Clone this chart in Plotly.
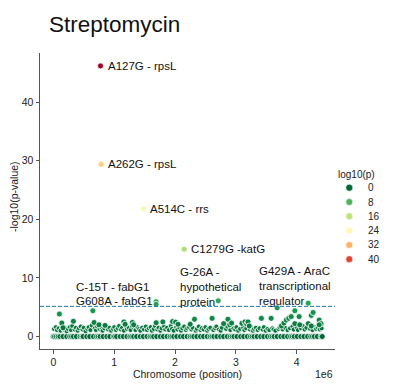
import plotly.graph_objects as go
from plotly.colors import sample_colorscale

W, H = 404, 389

# ---------------- data (positions in Mb, values = -log10(p)) ----------------
hit_pos = [0.776, 0.787, 1.48, 2.15, 1.69, 1.69, 2.71]
hit_val = [46.2, 29.4, 21.8, 14.9, 5.95, 5.5, 6.1]

scatter_pos = [0.10, 0.14, 0.16, 0.33, 0.65, 0.67, 0.75, 0.85, 1.16, 1.18, 1.30, 1.32,
               1.69, 1.80, 1.96, 2.01, 2.05, 2.25, 2.32, 2.61, 2.80, 2.87, 2.90, 2.93,
               3.10, 3.15, 3.18, 3.20, 3.22, 3.42, 3.58, 3.68, 3.75, 3.79, 3.83, 3.87,
               3.91, 3.97, 3.97, 4.04, 4.05, 4.19, 4.19, 4.24, 4.27, 4.24, 4.37, 4.40, 4.37]
scatter_val = [3.85, 2.3, 1.5, 2.6, 4.4, 2.4, 2.0, 1.9, 2.5, 2.1, 2.4, 2.0,
               2.35, 2.5, 2.55, 2.45, 2.1, 2.1, 2.95, 3.1, 2.2, 2.95, 2.0, 2.3,
               2.25, 2.5, 2.1, 2.5, 1.8, 3.1, 3.1, 4.9, 1.8, 2.3, 2.8, 3.1,
               3.4, 4.4, 2.2, 3.4, 2.0, 5.7, 2.2, 3.6, 4.1, 1.8, 2.8, 2.2, 2.0]

band_pos = [0.01, 0.04, 0.06, 0.09, 0.12, 0.14, 0.17, 0.19, 0.22, 0.24, 0.27, 0.29, 0.31,
            0.35, 0.37, 0.40, 0.42, 0.45, 0.48, 0.50, 0.53, 0.56, 0.58, 0.61, 0.63, 0.68,
            0.70, 0.72, 0.76, 0.79, 0.81, 0.84, 0.87, 0.90, 0.92, 0.95, 0.98, 1.00, 1.03,
            1.06, 1.08, 1.11, 1.13, 1.16, 1.19, 1.21, 1.24, 1.27, 1.29, 1.33, 1.35, 1.38,
            1.41, 1.43, 1.46, 1.49, 1.52, 1.54, 1.57, 1.60, 1.62, 1.65, 1.67, 1.71, 1.73,
            1.76, 1.78, 1.82, 1.84, 1.87, 1.90, 1.93, 1.95, 1.98, 2.02, 2.04, 2.07, 2.10,
            2.12, 2.15, 2.18, 2.20, 2.23, 2.27, 2.29, 2.34, 2.36, 2.39, 2.42, 2.44, 2.47,
            2.50, 2.53, 2.55, 2.58, 2.63, 2.66, 2.68, 2.72, 2.75, 2.77, 2.84, 2.86, 2.91,
            2.96, 2.99, 3.01, 3.04, 3.07, 3.12, 3.14, 3.17, 3.23, 3.25, 3.28, 3.30, 3.33,
            3.36, 3.39, 3.44, 3.46, 3.49, 3.52, 3.55, 3.60, 3.62, 3.65, 3.70, 3.72, 3.77,
            3.81, 3.85, 3.89, 3.93, 3.95, 4.00, 4.02, 4.07, 4.10, 4.13, 4.16, 4.22, 4.26,
            4.29, 4.32, 4.35, 4.38, 4.41]
band_val = [1.3, 1.6, 1.1, 1.4, 1.0, 1.7, 1.2, 1.5, 0.9, 1.3, 1.6, 1.1, 1.8,
            1.2, 1.5, 1.0, 1.4, 1.7, 1.2, 1.5, 0.9, 1.3, 1.6, 1.1, 1.9, 1.4,
            1.1, 1.7, 1.3, 1.5, 1.0, 1.4, 1.8, 1.2, 1.5, 1.0, 1.3, 1.6, 1.1,
            1.4, 1.8, 1.2, 1.5, 1.0, 1.7, 1.3, 1.5, 1.1, 1.8, 1.4, 1.1, 1.6,
            1.3, 1.0, 1.5, 1.2, 1.7, 1.1, 1.4, 1.6, 1.0, 1.3, 1.8, 1.2, 1.5,
            1.0, 1.4, 1.7, 1.2, 1.5, 1.1, 1.8, 1.3, 1.0, 1.6, 1.2, 1.5, 1.0,
            1.4, 1.7, 1.1, 1.4, 1.6, 1.2, 1.5, 1.0, 1.3, 1.7, 1.1, 1.4, 1.2,
            1.6, 1.0, 1.3, 1.5, 1.1, 1.4, 1.7, 1.2, 1.0, 1.5, 1.3, 1.7, 1.1,
            1.4, 1.2, 1.6, 1.0, 1.3, 1.5, 1.1, 1.4, 1.2, 1.6, 1.0, 1.3, 1.5,
            1.1, 1.4, 1.2, 1.6, 1.0, 1.3, 1.1, 1.4, 1.2, 1.0, 1.3, 1.6, 1.2,
            1.5, 1.1, 1.4, 1.7, 1.2, 1.5, 1.1, 1.4, 1.8, 1.2, 1.5, 1.3, 1.1,
            1.6, 1.3, 1.5, 1.2, 1.4]

zero_pos = [0.00, 0.02, 0.05, 0.08, 0.11, 0.16, 0.22, 0.27, 0.30, 0.33, 0.38, 0.44, 0.47,
            0.49, 0.55, 0.60, 0.66, 0.71, 0.74, 0.77, 0.82, 0.88, 0.93, 0.99, 1.01, 1.04,
            1.10, 1.15, 1.21, 1.26, 1.29, 1.32, 1.37, 1.43, 1.48, 1.54, 1.59, 1.62, 1.65,
            1.70, 1.76, 1.81, 1.87, 1.92, 1.95, 1.98, 2.03, 2.09, 2.14, 2.20, 2.25, 2.28,
            2.31, 2.36, 2.42, 2.47, 2.53, 2.58, 2.61, 2.64, 2.69, 2.75, 2.80, 2.86, 2.91,
            2.94, 2.97, 3.02, 3.08, 3.13, 3.19, 3.24, 3.27, 3.30, 3.35, 3.41, 3.46, 3.52,
            3.57, 3.60, 3.63, 3.68, 3.74, 3.79, 3.85, 3.90, 3.93, 3.96, 4.01, 4.07, 4.12,
            4.18, 4.23, 4.26, 4.29, 4.34, 4.40, 4.42]
zero_val = [0.0] * len(zero_pos)

threshold = 5.15

label_text = ["A127G - rpsL", "A262G - rpsL", "A514C - rrs", "C1279G -katG"]
label_pos = [0.776, 0.787, 1.48, 2.15]
label_val = [46.2, 29.4, 21.8, 14.9]

block_text = ["C-15T - fabG1", "G608A - fabG1", "G-26A -<br>hypothetical<br>protein",
              "G429A - AraC<br>transcriptional<br>regulator"]
block_pos = [0.34, 0.34, 2.05, 3.35]
block_val = [8.45, 6.1, 8.4, 8.6]

legend_values = [0, 8, 16, 24, 32, 40]
x_ticks = [0, 1, 2, 3, 4]
y_ticks = [0, 10, 20, 30, 40]

# ---------------- figure ----------------
vmax = max(hit_val + scatter_val + band_val + zero_val)
FONT = "Liberation Sans, Arial, sans-serif"
fig = go.Figure()


def add_points(xs, ys, size):
    fig.add_trace(go.Scatter(
        x=xs, y=ys, mode="markers", showlegend=False,
        marker=dict(size=size, color=ys, colorscale="RdYlGn", reversescale=True,
                    cmin=0, cmax=vmax, line=dict(color="white", width=0.8)),
        xaxis="x", yaxis="y"))


add_points(zero_pos, zero_val, 6)
add_points(band_pos, band_val, 5)
add_points(scatter_pos, scatter_val, 6)
add_points(hit_pos, hit_val, 6)

# custom legend in an overlay axis measured in pixels
leg_cols = sample_colorscale("RdYlGn", [1 - v / vmax for v in legend_values])
leg_x0, leg_y0, leg_dy = 349.3, 187.7, 14.3
leg_y = [leg_y0 + i * leg_dy for i in range(len(legend_values))]
fig.add_trace(go.Scatter(
    x=[leg_x0] * len(legend_values), y=leg_y, mode="markers", showlegend=False,
    marker=dict(size=7, color=leg_cols, line=dict(color="white", width=0.6)),
    xaxis="x2", yaxis="y2", hoverinfo="skip"))

annotations = []
for t, yy in zip(legend_values, leg_y):
    annotations.append(dict(x=365.5, y=yy, xref="x2", yref="y2", text=str(t),
                            showarrow=False, xanchor="left", yanchor="middle",
                            font=dict(size=10, color="#222", family=FONT)))
annotations.append(dict(x=356.5, y=174.5, xref="x2", yref="y2", text="log10(p)",
                        showarrow=False, xanchor="center", yanchor="middle",
                        font=dict(size=10, color="#222", family=FONT)))

for t, xp, yv in zip(label_text, label_pos, label_val):
    annotations.append(dict(x=xp, y=yv, xref="x", yref="y", text=t, showarrow=False,
                            xanchor="left", yanchor="middle", xshift=5,
                            font=dict(size=11.5, color="#111", family=FONT)))
for t, xp, yv in zip(block_text, block_pos, block_val):
    annotations.append(dict(x=xp, y=yv, xref="x", yref="y", text=t, showarrow=False,
                            xanchor="left", yanchor="middle", align="left",
                            font=dict(size=11.5, color="#111", family=FONT)))

annotations.append(dict(x=335 / W, y=1 - 374 / H, xref="paper", yref="paper", text="1e6",
                        showarrow=False, xanchor="right", yanchor="middle",
                        font=dict(size=10.5, color="#222", family=FONT)))
annotations.append(dict(x=14 / W, y=1 - 197 / H, xref="paper", yref="paper",
                        text="-log10(p-value)", textangle=-90, showarrow=False,
                        xanchor="center", yanchor="middle",
                        font=dict(size=10.5, color="#222", family=FONT)))

axis_common = dict(showline=True, linecolor="#555", linewidth=1, ticks="outside",
                   ticklen=3.5, tickwidth=1, tickcolor="#555", showgrid=False,
                   zeroline=False, tickfont=dict(size=10.5, color="#222", family=FONT))

fig.update_layout(
    width=W, height=H, margin=dict(l=0, r=0, t=0, b=0),
    plot_bgcolor="white", paper_bgcolor="white",
    title=dict(text="Streptomycin", x=49 / W, xanchor="left", xref="container",
               y=1 - 24 / H, yanchor="middle", yref="container",
               font=dict(size=22.5, color="#111", family=FONT)),
    xaxis=dict(domain=[40 / W, 335 / W], range=[-0.219, 4.63], tickvals=x_ticks,
               ticktext=[str(t) for t in x_ticks], anchor="y",
               title=dict(text="Chromosome (position)", standoff=3,
                          font=dict(size=10.5, color="#222", family=FONT)),
               **axis_common),
    yaxis=dict(domain=[40 / H, 336 / H], range=[-2.13, 48.4], tickvals=y_ticks,
               anchor="x", **axis_common),
    xaxis2=dict(domain=[335 / W, 1], range=[335, 404], visible=False, anchor="y2"),
    yaxis2=dict(domain=[0, 1], range=[389, 0], visible=False, anchor="x2"),
    shapes=[dict(type="line", xref="paper", x0=40 / W, x1=335 / W, yref="y",
                 y0=threshold, y1=threshold,
                 line=dict(color="#1f77b4", width=1, dash="4px,2px"))],
    annotations=annotations,
)

fig.write_html("out.html", config={"displayModeBar": False},
               post_script="document.body.style.margin='0';document.body.style.overflow='hidden';")
